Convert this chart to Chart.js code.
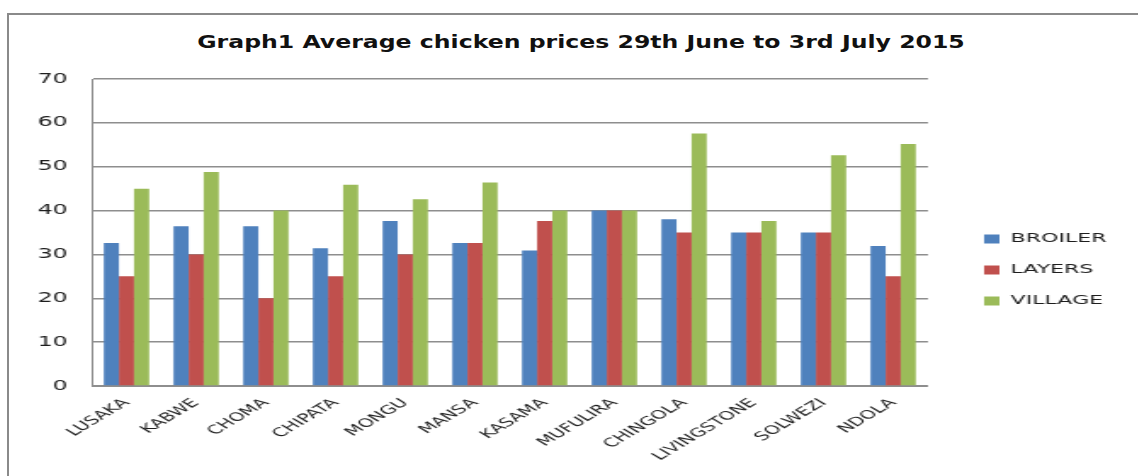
<!DOCTYPE html>
<html>
<head>
<meta charset="utf-8">
<script src="https://cdn.jsdelivr.net/npm/chart.js@4.4.1/dist/chart.umd.min.js"></script>
<style>
  html, body { margin: 0; background: #fff; }
  body { width: 1138px; height: 476px; position: relative; overflow: hidden; }
  .frame { position: absolute; left: 7px; top: 13px; right: -4px; bottom: -4px; border-top: 2px solid #8a8a8a; border-left: 2px solid #8a8a8a; }
  .title { position: absolute; left: 0; top: 32px; width: 1162px; text-align: center; font: bold 18px/20px 'DejaVu Sans', sans-serif; color: #111; white-space: nowrap; transform: scaleX(1.31); transform-origin: 581px 0; }
  /* the source picture is stretched sideways, so the chart is drawn narrow and widened */
  .stretch { position: absolute; left: 10px; top: 16px; width: 664px; height: 460px; transform: scaleX(1.7); transform-origin: 0 0; }
</style>
</head>
<body>
<div class="frame"></div>
<div class="title">Graph1 Average chicken prices 29th June to 3rd July 2015</div>
<div class="stretch"><canvas id="chart" width="664" height="460"></canvas></div>
<script>
(function () {
  'use strict';

  const categories = ['LUSAKA', 'KABWE', 'CHOMA', 'CHIPATA', 'MONGU', 'MANSA', 'KASAMA', 'MUFULIRA', 'CHINGOLA', 'LIVINGSTONE', 'SOLWEZI', 'NDOLA'];
  const broiler = [32.6, 36.4, 36.4, 31.4, 37.6, 32.6, 30.9, 40, 38, 35, 35, 31.9];
  const layers = [25, 30, 20, 25, 30, 32.6, 37.6, 40, 35, 35, 35, 25];
  const village = [45, 48.8, 40, 45.9, 42.6, 46.4, 40, 40, 57.6, 37.6, 52.6, 55.2];
  const yTicks = [0, 10, 20, 30, 40, 50, 60, 70];
  const seriesNames = ['BROILER', 'LAYERS', 'VILLAGE'];
  const seriesColors = ['#4f81bd', '#c0504d', '#9bbb59'];

  const TEXT = '#1e1e1e';
  const GRID = '#8e8e8e';
  const family = "'DejaVu Sans', sans-serif";

  new Chart(document.getElementById('chart'), {
    type: 'bar',
    data: {
      labels: categories,
      datasets: [broiler, layers, village].map((vals, i) => ({
        label: seriesNames[i], data: vals, backgroundColor: seriesColors[i], borderWidth: 0,
        categoryPercentage: 0.65, barPercentage: 1,
      })),
    },
    options: {
      responsive: false, devicePixelRatio: 1, animation: false,
      layout: { padding: { top: 63, right: 9, bottom: 15, left: 0 } },
      scales: {
        x: {
          grid: { display: false }, border: { color: GRID, width: 1 },
          ticks: { minRotation: 45, maxRotation: 45, padding: 2, color: TEXT, font: { family, size: 12 } },
          afterFit: (s) => { s.height = 75; },
        },
        y: {
          min: 0, max: 70,
          afterBuildTicks: (s) => { s.ticks = yTicks.map((v) => ({ value: v })); },
          grid: { color: GRID, lineWidth: 1.4, drawTicks: false }, border: { color: GRID, width: 1 },
          ticks: { padding: 14, color: TEXT, font: { family, size: 14 } },
          afterFit: (s) => { s.width = 48; },
        },
        gap: {
          type: 'linear', axis: 'y', position: 'right', display: true,
          grid: { display: false }, border: { display: false }, ticks: { display: false },
          afterFit: (s) => { s.width = 15; },
        },
      },
      plugins: {
        legend: {
          position: 'right', fullSize: true, align: 'center',
          labels: { boxWidth: 9, boxHeight: 9, padding: 18, color: TEXT, font: { family, size: 13 } },
        },
        tooltip: { enabled: false },
      },
    },
  });
}());
</script>
</body>
</html>
